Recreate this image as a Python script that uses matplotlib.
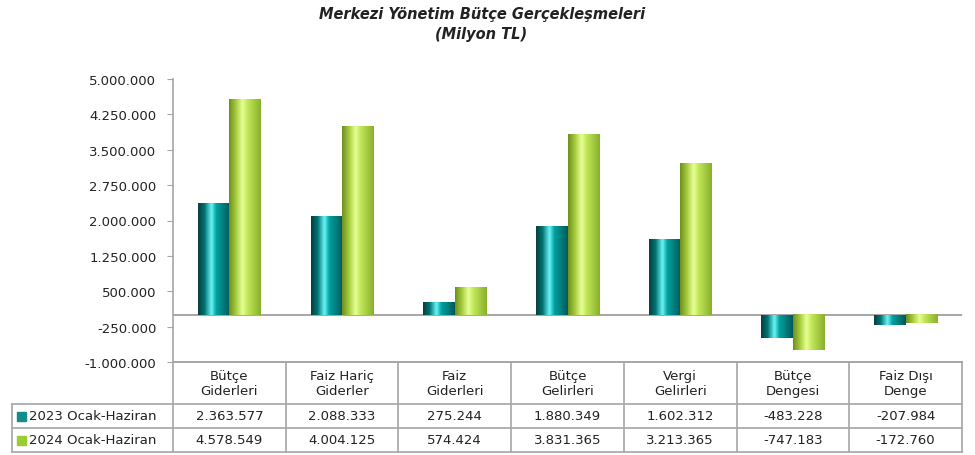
import matplotlib
matplotlib.use("Agg")
import matplotlib.pyplot as plt
import numpy as np
from matplotlib.colors import LinearSegmentedColormap
from matplotlib.lines import Line2D
from matplotlib.patches import Rectangle

# --- data (Milyon TL) ---
CATEGORIES = ["Bütçe\nGiderleri", "Faiz Hariç\nGiderler", "Faiz\nGiderleri",
              "Bütçe\nGelirleri", "Vergi\nGelirleri", "Bütçe\nDengesi",
              "Faiz Dışı\nDenge"]
SERIES = ["2023 Ocak-Haziran", "2024 Ocak-Haziran"]
VALS_2023 = [2363577, 2088333, 275244, 1880349, 1602312, -483228, -207984]
VALS_2024 = [4578549, 4004125, 574424, 3831365, 3213365, -747183, -172760]
YTICKS = [-1000000, -250000, 500000, 1250000, 2000000, 2750000,
          3500000, 4250000, 5000000]

TEAL_STOPS = [(0.0, "#083f3f"), (0.2, "#007272"), (0.42, "#6af4f4"),
              (0.58, "#00a0a0"), (1.0, "#005a5a")]
GREEN_STOPS = [(0.0, "#6f9020"), (0.2, "#a2c83a"), (0.42, "#e6ff92"),
               (0.6, "#bfe456"), (1.0, "#88b02c")]
SOLID = ["#138c8c", "#9acd32"]
GRID_C = "#a6a6a6"


def fmt(v):
    return f"{v:,.0f}".replace(",", ".")


W, H = 975, 456
AX_L, AX_R, AX_T, AX_B = 173, 962, 80, 363
ROW_Y = [363, 405, 429, 453]
LAB_L = 12

plt.rcParams["font.family"] = ["DejaVu Sans"]
fig = plt.figure(figsize=(W / 100, H / 100), dpi=100)
ax = fig.add_axes([AX_L / W, 1 - AX_B / H, (AX_R - AX_L) / W, (AX_B - AX_T) / H])

x = np.arange(len(CATEGORIES))
bw = 0.28
b1 = ax.bar(x - bw / 2, VALS_2023, bw, color=SOLID[0], zorder=2)
b2 = ax.bar(x + bw / 2, VALS_2024, bw, color=SOLID[1], zorder=2)

# cylinder-like shading on each bar
grad = np.linspace(0, 1, 64).reshape(1, -1)
for bars, stops in ((b1, TEAL_STOPS), (b2, GREEN_STOPS)):
    cmap = LinearSegmentedColormap.from_list("cyl", stops)
    for p in bars:
        x0, y0, w, h = p.get_x(), p.get_y(), p.get_width(), p.get_height()
        ax.imshow(grad, cmap=cmap, extent=[x0, x0 + w, y0, y0 + h],
                  aspect="auto", zorder=3, interpolation="bilinear")

ax.set_xlim(-0.5, len(CATEGORIES) - 0.5)
ax.set_ylim(-1000000, 5000000)
ax.set_yticks(YTICKS)
ax.set_yticklabels([fmt(v) for v in YTICKS], fontsize=9.5, color="#222222")
ax.set_xticks([])
ax.tick_params(axis="y", length=4, color=GRID_C, pad=8)
for s in ("top", "right"):
    ax.spines[s].set_visible(False)
for s in ("left", "bottom"):
    ax.spines[s].set_color(GRID_C)
    ax.spines[s].set_linewidth(1.2)
ax.axhline(0, color=GRID_C, lw=1.4, zorder=1)

# --- title ---
fig.text(482 / W, 1 - 15 / H, "Merkezi Yönetim Bütçe Gerçekleşmeleri",
         ha="center", va="center", fontsize=10.5, fontweight="bold",
         fontstyle="italic", color="#222222")
fig.text(481 / W, 1 - 34 / H, "(Milyon TL)", ha="center", va="center",
         fontsize=10.5, fontweight="bold", fontstyle="italic", color="#222222")

# --- data table under the axis ---
def fx(px):
    return px / W


def fy(py):
    return 1 - py / H


col_w = (AX_R - AX_L) / len(CATEGORIES)
lines = [((AX_L, AX_R), (ROW_Y[0], ROW_Y[0]))]
for ry in ROW_Y[1:]:
    lines.append(((LAB_L, AX_R), (ry, ry)))
lines.append(((LAB_L, LAB_L), (ROW_Y[1], ROW_Y[3])))
for i in range(len(CATEGORIES) + 1):
    cx = AX_L + i * col_w
    lines.append(((cx, cx), (ROW_Y[0], ROW_Y[3])))
for xs, ys in lines:
    fig.add_artist(Line2D([fx(v) for v in xs], [fy(v) for v in ys],
                          color=GRID_C, lw=1.2))

for i, cat in enumerate(CATEGORIES):
    cx = AX_L + (i + 0.5) * col_w
    fig.text(fx(cx), fy((ROW_Y[0] + ROW_Y[1]) / 2), cat, ha="center",
             va="center", fontsize=9.5, color="#222222", linespacing=1.25)
    for r, vals in enumerate((VALS_2023, VALS_2024)):
        fig.text(fx(cx), fy((ROW_Y[r + 1] + ROW_Y[r + 2]) / 2), fmt(vals[i]),
                 ha="center", va="center", fontsize=9.5, color="#222222")

for r, name in enumerate(SERIES):
    cy = (ROW_Y[r + 1] + ROW_Y[r + 2]) / 2
    fig.add_artist(Rectangle((fx(17), fy(cy + 4.5)), 9 / W, 9 / H,
                             color=SOLID[r], transform=fig.transFigure))
    fig.text(fx(29), fy(cy), name, ha="left", va="center", fontsize=9.5,
             color="#222222")

fig.savefig("out.png", dpi=100)
